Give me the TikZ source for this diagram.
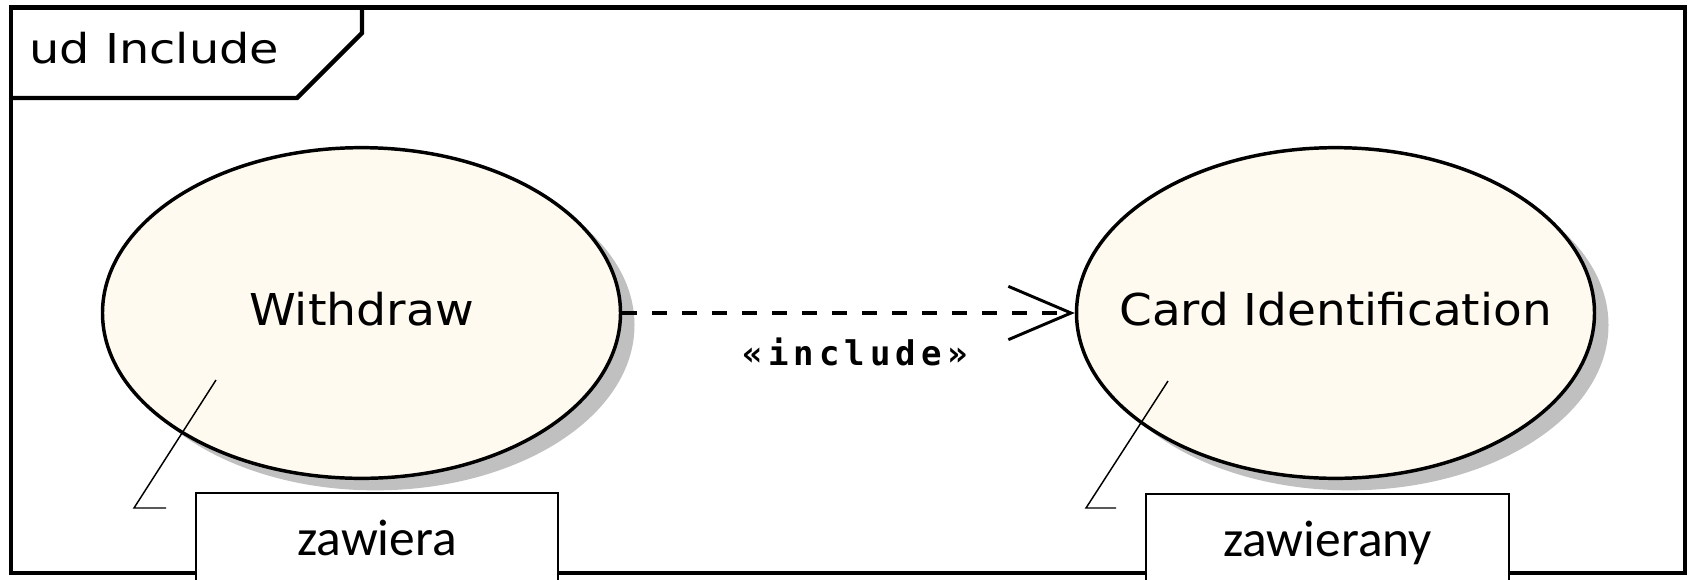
\documentclass[tikz,border=0pt]{standalone}
\usepackage{fontspec}
\usetikzlibrary{shapes.geometric,arrows.meta,shadows}
\newfontfamily\pixfont{DejaVu Sans}
\newfontfamily\pixmono[LetterSpace=15]{DejaVu Sans Mono Bold}
\newfontfamily\calib{Carlito}
\definecolor{usecasefill}{RGB}{255,250,240}
\definecolor{shadowgray}{RGB}{192,192,192}
\tikzset{
  framestyle/.style={line width=3.2pt, line join=miter},
  usecase/.style={ellipse, draw=black, line width=2.6pt, fill=usecasefill,
    inner sep=0pt, minimum width=388.5pt, minimum height=248pt,
    text height=22pt, text depth=4pt,
    drop shadow={shadow xshift=10.5pt, shadow yshift=-9pt, fill=shadowgray, opacity=1},
    font=\pixfont\fontsize{32.9}{38}\selectfont},
  include/.style={dashed, line width=2.6pt, dash pattern=on 11.25pt off 11.25pt,
    -{Straight Barb[length=47pt,width=40pt,line width=2.2pt]}},
  noteline/.style={line width=1.1pt},
  notebox/.style={rectangle, draw=black, line width=1.5pt, fill=white,
    anchor=north, inner ysep=10pt, text height=36.5pt, text depth=50pt,
    font=\calib\fontsize{38.6}{44}\selectfont}
}
\begin{document}
\begin{tikzpicture}[x=0.75pt,y=-0.75pt]
\useasboundingbox (0,0) rectangle (1696,579);
\clip (0,0) rectangle (1696,579);
\fill[white] (0,0) rectangle (1696,579);
% frame
\draw[framestyle] (11,7.5) rectangle (1685,573);
\draw[framestyle] (11,98) -- (297,98) -- (362,33) -- (362,7.5);
\node[anchor=base west, inner sep=0pt, font=\pixfont\fontsize{30.9}{36}\selectfont] (title) at (29,63) {\scalebox{1.16}[1]{ud Include}};
% use cases
\node[usecase] (W) at (361.5,313) {\makebox[0pt][c]{\scalebox{1.08}[1]{Withdraw}}};
\node[usecase] (C) at (1335.5,313) {\makebox[0pt][c]{\scalebox{1.07}[1]{Card Identification}}};
% include dependency
\draw[include] (W) -- (C);
\node[anchor=base, inner sep=0pt, font=\pixmono\fontsize{25.5}{30}\selectfont] (lbl) at (855,365) {«include»};
% note anchors
\coordinate (n1a) at (216,380);
\coordinate (n1b) at (134,508);
\coordinate (n1c) at (166,508);
\coordinate (n2a) at (1168,381);
\coordinate (n2b) at (1086,508);
\coordinate (n2c) at (1116,508);
\draw[noteline] (n1a) -- (n1b) -- (n1c);
\draw[noteline] (n2a) -- (n2b) -- (n2c);
% note boxes
\node[notebox, minimum width=271.5pt] (b1) at (377,492) {zawiera};
\node[notebox, minimum width=272.25pt] (b2) at (1327.5,493) {zawierany};
\end{tikzpicture}
\end{document}
